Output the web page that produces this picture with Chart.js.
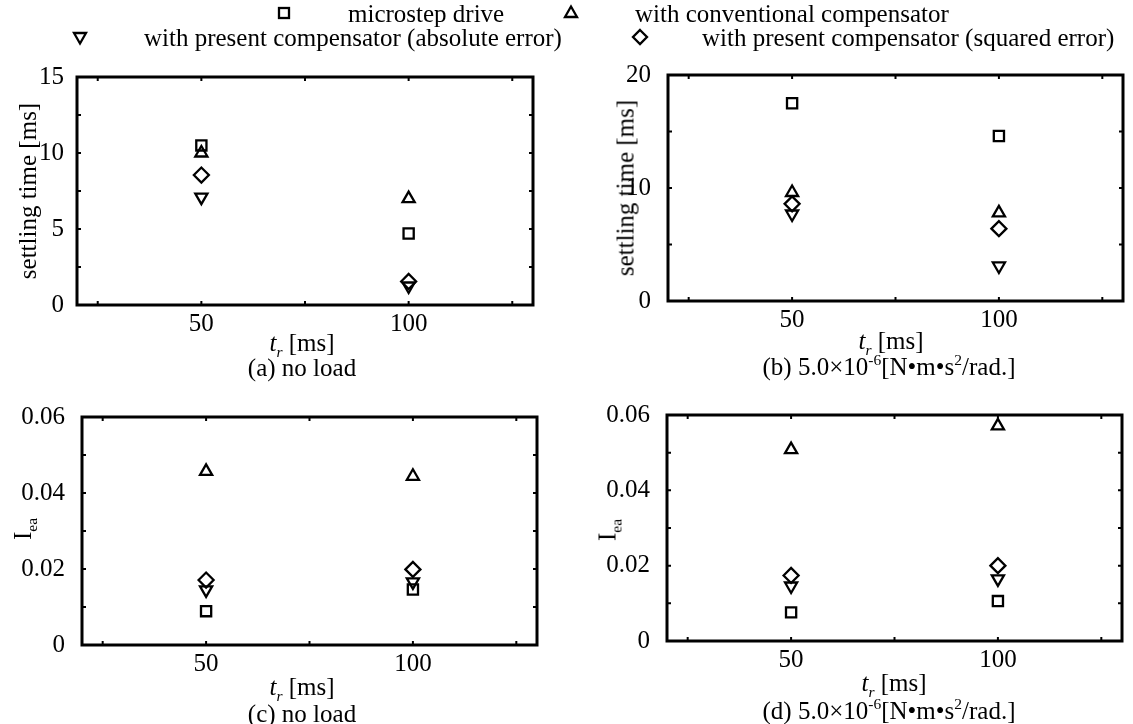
<!DOCTYPE html>
<html>
<head>
<meta charset="utf-8">
<script src="https://cdn.jsdelivr.net/npm/chart.js@4.4.0/dist/chart.umd.min.js"></script>
<style>
  body { margin: 0; width: 1133px; height: 724px; background: #fff; position: relative; overflow: hidden;
         font-family: 'Liberation Serif', 'Times New Roman', serif; color: #000; }
  canvas.panel { position: absolute; left: 0; top: 0; }
  .txt { position: absolute; white-space: nowrap; font-size: 25px; line-height: 1; }
  .mid { transform: translate(-50%, -50%); }
  .left { transform: translate(0, -50%); }
  .rot { transform: translate(-50%, -50%) rotate(-90deg); }
  sub, sup { font-size: 62%; line-height: 0; }
  svg.mk { position: absolute; overflow: visible; }
</style>
</head>
<body>
<canvas class="panel" id="pa" width="1133" height="724"></canvas>
<canvas class="panel" id="pb" width="1133" height="724"></canvas>
<canvas class="panel" id="pc" width="1133" height="724"></canvas>
<canvas class="panel" id="pd" width="1133" height="724"></canvas>

<div class="txt mid" style="left:302px; top:342px;"><i>t</i><sub><i>r</i></sub> [ms]</div>
<div class="txt mid" style="left:302px; top:367px;">(a) no load</div>
<div class="txt mid" style="left:891px; top:340px;"><i>t</i><sub><i>r</i></sub> [ms]</div>
<div class="txt mid" style="left:889px; top:366px;">(b) 5.0&times;10<sup>-6</sup>[N&bull;m&bull;s<sup>2</sup>/rad.]</div>
<div class="txt mid" style="left:302px; top:686px;"><i>t</i><sub><i>r</i></sub> [ms]</div>
<div class="txt mid" style="left:302px; top:713px;">(c) no load</div>
<div class="txt mid" style="left:894px; top:682px;"><i>t</i><sub><i>r</i></sub> [ms]</div>
<div class="txt mid" style="left:889px; top:710px;">(d) 5.0&times;10<sup>-6</sup>[N&bull;m&bull;s<sup>2</sup>/rad.]</div>

<div class="txt rot" style="left:27px; top:191px;">settling time [ms]</div>
<div class="txt rot" style="left:625px; top:188px;">settling time [ms]</div>
<div class="txt rot" style="left:22px; top:529px;">I<sub>ea</sub></div>
<div class="txt rot" style="left:607px; top:530px;">I<sub>ea</sub></div>

<div id="legend"></div>

<script>
// x axis: rise time t_r [ms]
const tr = [50, 100];
const xTicks = [25, 50, 75, 100, 125];
const xTickLabels = [50, 100];

const seriesNames = [
  'microstep drive',
  'with conventional compensator',
  'with present compensator (absolute error)',
  'with present compensator (squared error)'
];

// (a) settling time, no load
const settleNoLoadMicro = [10.5, 4.7];
const settleNoLoadConv  = [10.0, 7.0];
const settleNoLoadAbs   = [7.1, 1.25];
const settleNoLoadSq    = [8.55, 1.55];

// (b) settling time, 5.0e-6 load
const settleLoadMicro = [17.5, 14.6];
const settleLoadConv  = [9.6, 7.8];
const settleLoadAbs   = [7.7, 3.1];
const settleLoadSq    = [8.6, 6.4];

// (c) I_ea, no load
const ieaNoLoadMicro = [0.0089, 0.0146];
const ieaNoLoadConv  = [0.0457, 0.0444];
const ieaNoLoadAbs   = [0.0145, 0.0166];
const ieaNoLoadSq    = [0.0171, 0.0199];

// (d) I_ea, 5.0e-6 load
const ieaLoadMicro = [0.0076, 0.0106];
const ieaLoadConv  = [0.0508, 0.0571];
const ieaLoadAbs   = [0.0146, 0.0165];
const ieaLoadSq    = [0.0174, 0.0200];

// y ticks
const settleTicksA = [0, 2.5, 5, 7.5, 10, 12.5, 15];
const settleLabelsA = [0, 5, 10, 15];
const settleTicksB = [0, 5, 10, 15, 20];
const settleLabelsB = [0, 10, 20];
const ieaTicks = [0, 0.01, 0.02, 0.03, 0.04, 0.05, 0.06];
const ieaLabels = [0, 0.02, 0.04, 0.06];

const W = 1133, H = 724;
const tickFont = { family: "'Liberation Serif', 'Times New Roman', serif", size: 25 };

const markers = [
  { pointStyle: 'rect', radius: 7.2, rotation: 0 },
  { pointStyle: 'triangle', radius: 7, rotation: 0 },
  { pointStyle: 'triangle', radius: 7, rotation: 180 },
  { pointStyle: 'rectRot', radius: 7.5, rotation: 0 }
];

// box with inward tick marks on all four sides
const framePlugin = {
  id: 'frame',
  afterDraw(chart) {
    const { ctx, chartArea: a, scales: { x, y } } = chart;
    ctx.save();
    ctx.strokeStyle = '#000';
    ctx.lineWidth = 2;
    ctx.beginPath();
    x.ticks.forEach(t => {
      const px = x.getPixelForValue(t.value);
      ctx.moveTo(px, a.bottom); ctx.lineTo(px, a.bottom - 4);
      ctx.moveTo(px, a.top); ctx.lineTo(px, a.top + 4);
    });
    y.ticks.forEach(t => {
      const py = y.getPixelForValue(t.value);
      ctx.moveTo(a.left, py); ctx.lineTo(a.left + 4, py);
      ctx.moveTo(a.right, py); ctx.lineTo(a.right - 4, py);
    });
    ctx.stroke();
    ctx.lineWidth = 3;
    ctx.strokeRect(a.left, a.top, a.right - a.left, a.bottom - a.top);
    ctx.restore();
  }
};

function hasLabel(list, v) {
  return list.some(l => Math.abs(l - v) < 1e-9);
}

function makePanel(id, area, yMax, yTicks, yLabels, fmt, yPad, series) {
  const datasets = series.map((vals, i) => ({
    label: seriesNames[i],
    data: tr.map((x, j) => ({ x: x, y: vals[j] })),
    pointStyle: markers[i].pointStyle,
    pointRadius: markers[i].radius,
    rotation: markers[i].rotation,
    borderColor: '#000',
    backgroundColor: 'rgba(0,0,0,0)',
    pointBorderWidth: 2.3,
    showLine: false,
    clip: false
  }));
  new Chart(document.getElementById(id), {
    type: 'scatter',
    data: { datasets },
    options: {
      responsive: false,
      animation: false,
      layout: { padding: { left: 0, top: area.top, right: W - area.right, bottom: 0 } },
      plugins: { legend: { display: false }, tooltip: { enabled: false } },
      scales: {
        x: {
          type: 'linear', min: 20, max: 130,
          grid: { display: false }, border: { display: false },
          afterBuildTicks: s => { s.ticks = xTicks.map(v => ({ value: v })); },
          afterFit: s => { s.height = H - area.bottom; },
          ticks: {
            color: '#000', font: tickFont, padding: -4, maxRotation: 0, autoSkip: false,
            callback: v => hasLabel(xTickLabels, v) ? String(v) : ''
          }
        },
        y: {
          type: 'linear', min: 0, max: yMax,
          grid: { display: false }, border: { display: false },
          afterBuildTicks: s => { s.ticks = yTicks.map(v => ({ value: v })); },
          afterFit: s => { s.width = area.left; },
          ticks: {
            color: '#000', font: tickFont, padding: yPad, autoSkip: false,
            callback: v => hasLabel(yLabels, v) ? fmt(v) : ''
          }
        }
      }
    },
    plugins: [framePlugin]
  });
}

const fmtInt = v => String(v);
const fmtDec = v => v === 0 ? '0' : v.toFixed(2);

makePanel('pa', { left: 77, top: 77, right: 533, bottom: 305 }, 15, settleTicksA, settleLabelsA, fmtInt, 5,
  [settleNoLoadMicro, settleNoLoadConv, settleNoLoadAbs, settleNoLoadSq]);
makePanel('pb', { left: 668, top: 75, right: 1123, bottom: 301 }, 20, settleTicksB, settleLabelsB, fmtInt, 9,
  [settleLoadMicro, settleLoadConv, settleLoadAbs, settleLoadSq]);
makePanel('pc', { left: 82, top: 417, right: 537, bottom: 645 }, 0.06, ieaTicks, ieaLabels, fmtDec, 9,
  [ieaNoLoadMicro, ieaNoLoadConv, ieaNoLoadAbs, ieaNoLoadSq]);
makePanel('pd', { left: 667, top: 415, right: 1122, bottom: 641 }, 0.06, ieaTicks, ieaLabels, fmtDec, 9,
  [ieaLoadMicro, ieaLoadConv, ieaLoadAbs, ieaLoadSq]);

// legend (two rows, as in the figure)
const legendPos = [
  { mx: 284, tx: 348, y: 13 },
  { mx: 571, tx: 635, y: 13 },
  { mx: 80,  tx: 144, y: 37 },
  { mx: 640, tx: 702, y: 37 }
];
const shapes = [
  '<rect x="-5" y="-5" width="10" height="10"/>',
  '<polygon points="0,-6.5 6,4 -6,4"/>',
  '<polygon points="0,6.5 6,-4 -6,-4"/>',
  '<polygon points="0,-7 7,0 0,7 -7,0"/>'
];
const legend = document.getElementById('legend');
legendPos.forEach((p, i) => {
  legend.insertAdjacentHTML('beforeend',
    `<svg class="mk" width="20" height="20" viewBox="-10 -10 20 20" style="left:${p.mx - 10}px; top:${p.y - 10}px;">` +
    `<g fill="none" stroke="#000" stroke-width="2.3">${shapes[i]}</g></svg>` +
    `<div class="txt left" style="left:${p.tx}px; top:${p.y}px;">${seriesNames[i]}</div>`);
});
</script>
</body>
</html>
